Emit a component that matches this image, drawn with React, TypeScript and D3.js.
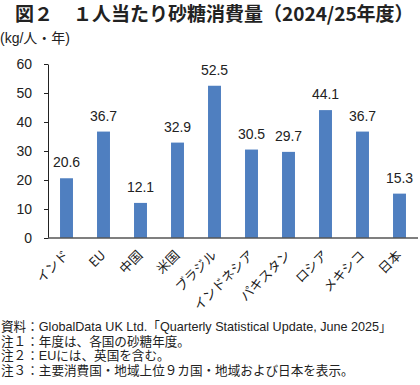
import React, { useRef, useEffect } from "react";
import * as d3 from "d3";

// 1人当たり砂糖消費量 (kg/人・年)
const categories = ["インド", "EU", "中国", "米国", "ブラジル", "インドネシア", "パキスタン", "ロシア", "メキシコ", "日本"];
const values = [20.6, 36.7, 12.1, 32.9, 52.5, 30.5, 29.7, 44.1, 36.7, 15.3];
const yTicks = [0, 10, 20, 30, 40, 50, 60];

const title1 = "図２";
const title2 = "１人当たり砂糖消費量（2024/25年度）";
const unitLabel = "(kg/人・年)";
const notes = [
  "資料：GlobalData UK Ltd.「Quarterly Statistical Update, June 2025」",
  "注１：年度は、各国の砂糖年度。",
  "注２：EUには、英国を含む。",
  "注３：主要消費国・地域上位９カ国・地域および日本を表示。",
];

const W = 420;
const H = 385;
const FONT = "'Liberation Sans', Arial, 'Noto Sans CJK JP', sans-serif";
const JP = "'Noto Sans CJK JP', sans-serif";

const App = () => {
  const gRef = useRef(null);

  useEffect(() => {
    const g = d3.select(gRef.current);
    g.selectAll("*").remove();

    const x = d3.scaleBand()
      .domain(categories)
      .range([48, 418])
      .paddingInner(0.65)
      .paddingOuter(0.325);

    const y = d3.scaleLinear()
      .domain([0, 60])
      .range([238, 64]);

    // y axis
    const yAxis = g.append("g")
      .attr("transform", "translate(48,0)")
      .call(d3.axisLeft(y).tickValues(yTicks).tickSize(4).tickPadding(12).tickSizeOuter(0));
    yAxis.select(".domain").attr("stroke", "#222");
    yAxis.selectAll(".tick line").attr("stroke", "#222");
    yAxis.selectAll("text")
      .attr("font-family", FONT)
      .attr("font-size", 14)
      .attr("fill", "#222");

    // bars
    g.selectAll("rect.bar")
      .data(values)
      .join("rect")
      .attr("class", "bar")
      .attr("x", (d, i) => x(categories[i]))
      .attr("y", d => y(d))
      .attr("width", x.bandwidth())
      .attr("height", d => y(0) - y(d))
      .attr("fill", "#4f7fc0");

    // value labels
    g.selectAll("text.val")
      .data(values)
      .join("text")
      .attr("class", "val")
      .attr("x", (d, i) => x(categories[i]) + x.bandwidth() / 2)
      .attr("y", d => y(d) - 11)
      .attr("text-anchor", "middle")
      .attr("font-family", FONT)
      .attr("font-size", 14)
      .attr("fill", "#222")
      .text(d => d.toFixed(1));

    // x axis line
    g.append("line")
      .attr("x1", 48)
      .attr("x2", 418)
      .attr("y1", y(0))
      .attr("y2", y(0))
      .attr("stroke", "#555")
      .attr("stroke-width", 1.5);

    // category labels
    g.selectAll("text.cat")
      .data(categories)
      .join("text")
      .attr("class", "cat")
      .attr("transform", d => `translate(${x(d) + x.bandwidth() / 2 + 3},256) rotate(-45)`)
      .attr("text-anchor", "end")
      .attr("font-family", JP)
      .attr("font-size", 13)
      .attr("fill", "#222")
      .text(d => d);
  }, []);

  return (
    <svg width={W} height={H} style={{ position: "absolute", left: 0, top: 0, background: "#fff" }}>
      <text x={15} y={21} fontFamily={JP} fontWeight={700} fontSize={19} fill="#222">{title1}</text>
      <text x={73} y={21} fontFamily={JP} fontWeight={700} fontSize={19} fill="#222">{title2}</text>
      <text x={0} y={43} fontFamily={FONT} fontSize={14} fill="#222">{unitLabel}</text>
      <g ref={gRef} />
      {notes.map((n, i) => (
        <text key={i} x={1} y={[331, 345.5, 360, 374.5][i]} fontFamily={FONT} fontSize={12.6} fill="#222">{n}</text>
      ))}
    </svg>
  );
};

export default App;
